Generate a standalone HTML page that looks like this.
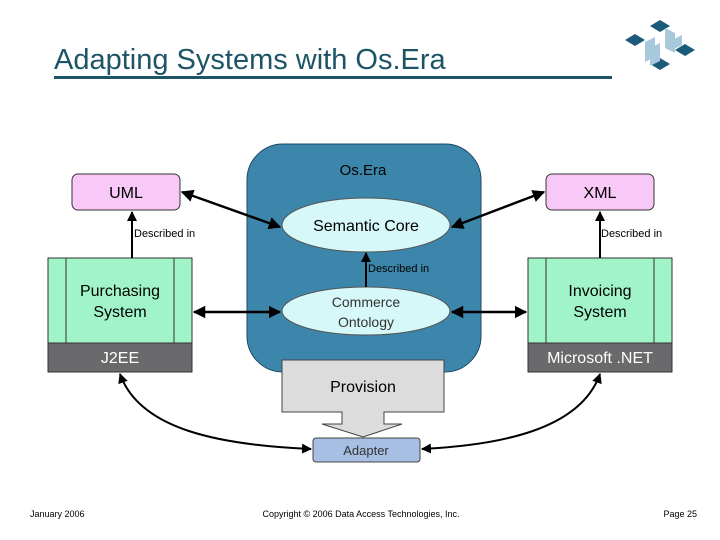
<!DOCTYPE html>
<html><head><meta charset="utf-8"><style>
body{margin:0;background:#fff;}
svg{display:block;font-family:"Liberation Sans",sans-serif;}
</style></head><body>
<svg width="720" height="540" viewBox="0 0 720 540" xmlns="http://www.w3.org/2000/svg">
<defs>
<marker id="a" viewBox="0 0 10 10" refX="9" refY="5" markerWidth="5" markerHeight="5" orient="auto-start-reverse"><path d="M0,0L10,5L0,10z" fill="#000"/></marker>
</defs>
<text x="54" y="69" font-size="29" fill="#1d5566">Adapting Systems with Os.Era</text>
<rect x="54" y="76" width="558" height="3" fill="#1d5566"/>
<g fill="#1b5a78">
<path d="M660,20l10,6-10,6-10-6z"/><path d="M635,34l10,6-10,6-10-6z"/><path d="M685,44l10,6-10,6-10-6z"/><path d="M660,58l10,6-10,6-10-6z"/>
</g>
<g fill="#a8c8dc"><path d="M645,42l10-5v20l-10,5z"/><path d="M665,28l10,5v20l-10-5z"/><path d="M650,48l10-5v18l-10,5z"/><path d="M672,50l10-5v-10l-10,5z"/></g>
<rect x="247" y="144" width="234" height="228" rx="36" fill="#3d86ab" stroke="#1b4a66"/>
<text x="363" y="175" font-size="15" text-anchor="middle">Os.Era</text>
<rect x="72" y="174" width="108" height="36" rx="6" fill="#f8c8f6" stroke="#333"/>
<text x="126" y="198" font-size="16" text-anchor="middle">UML</text>
<rect x="546" y="174" width="108" height="36" rx="6" fill="#f8c8f6" stroke="#333"/>
<text x="600" y="198" font-size="16" text-anchor="middle">XML</text>
<ellipse cx="366" cy="225" rx="84" ry="27" fill="#d6f8f8" stroke="#555"/>
<text x="366" y="231" font-size="16" text-anchor="middle">Semantic Core</text>
<ellipse cx="366" cy="311" rx="84" ry="24" fill="#d6f8f8" stroke="#555"/>
<text x="366" y="307" font-size="14" text-anchor="middle" fill="#333">Commerce</text>
<text x="366" y="327" font-size="14" text-anchor="middle" fill="#333">Ontology</text>
<g stroke="#333">
<rect x="48" y="258" width="144" height="85" fill="#a0f4c8"/><line x1="66" y1="258" x2="66" y2="343"/><line x1="174" y1="258" x2="174" y2="343"/>
<rect x="48" y="343" width="144" height="29" fill="#6a6a6c"/>
<rect x="528" y="258" width="144" height="85" fill="#a0f4c8"/><line x1="546" y1="258" x2="546" y2="343"/><line x1="654" y1="258" x2="654" y2="343"/>
<rect x="528" y="343" width="144" height="29" fill="#6a6a6c"/>
</g>
<text x="120" y="296" font-size="16" text-anchor="middle">Purchasing</text>
<text x="120" y="317" font-size="16" text-anchor="middle">System</text>
<text x="600" y="296" font-size="16" text-anchor="middle">Invoicing</text>
<text x="600" y="317" font-size="16" text-anchor="middle">System</text>
<text x="120" y="363" font-size="16" text-anchor="middle" fill="#fff">J2EE</text>
<text x="600" y="363" font-size="16" text-anchor="middle" fill="#fff">Microsoft .NET</text>
<path d="M282,360H444V412H384V424H402L363,437L322,424H342V412H282Z" fill="#dcdcdc" stroke="#444"/>
<text x="363" y="392" font-size="16" text-anchor="middle">Provision</text>
<rect x="313" y="438" width="107" height="24" rx="3" fill="#a6bfe2" stroke="#444"/>
<text x="366" y="455" font-size="13" text-anchor="middle" fill="#333">Adapter</text>
<g stroke="#000" stroke-width="2.5" fill="none" marker-start="url(#a)" marker-end="url(#a)">
<line x1="182" y1="192" x2="280" y2="227"/>
<line x1="544" y1="192" x2="452" y2="227"/>
<line x1="194" y1="312" x2="280" y2="312"/>
<line x1="526" y1="312" x2="452" y2="312"/>
</g>
<g stroke="#000" stroke-width="2" fill="none" marker-end="url(#a)">
<line x1="132" y1="258" x2="132" y2="212"/>
<line x1="600" y1="258" x2="600" y2="212"/>
<line x1="366" y1="287" x2="366" y2="253"/>
</g>
<g stroke="#000" stroke-width="2" fill="none" marker-start="url(#a)" marker-end="url(#a)">
<path d="M120,374C140,430 220,445 311,449"/>
<path d="M600,374C580,430 500,445 422,449"/>
</g>
<text x="134" y="237" font-size="11">Described in</text>
<text x="601" y="237" font-size="11">Described in</text>
<text x="368" y="272" font-size="11">Described in</text>
<text x="30" y="517" font-size="9">January 2006</text>
<text x="361" y="517" font-size="9" text-anchor="middle">Copyright © 2006 Data Access Technologies, Inc.</text>
<text x="697" y="517" font-size="9" text-anchor="end">Page 25</text>
</svg>
</body></html>
